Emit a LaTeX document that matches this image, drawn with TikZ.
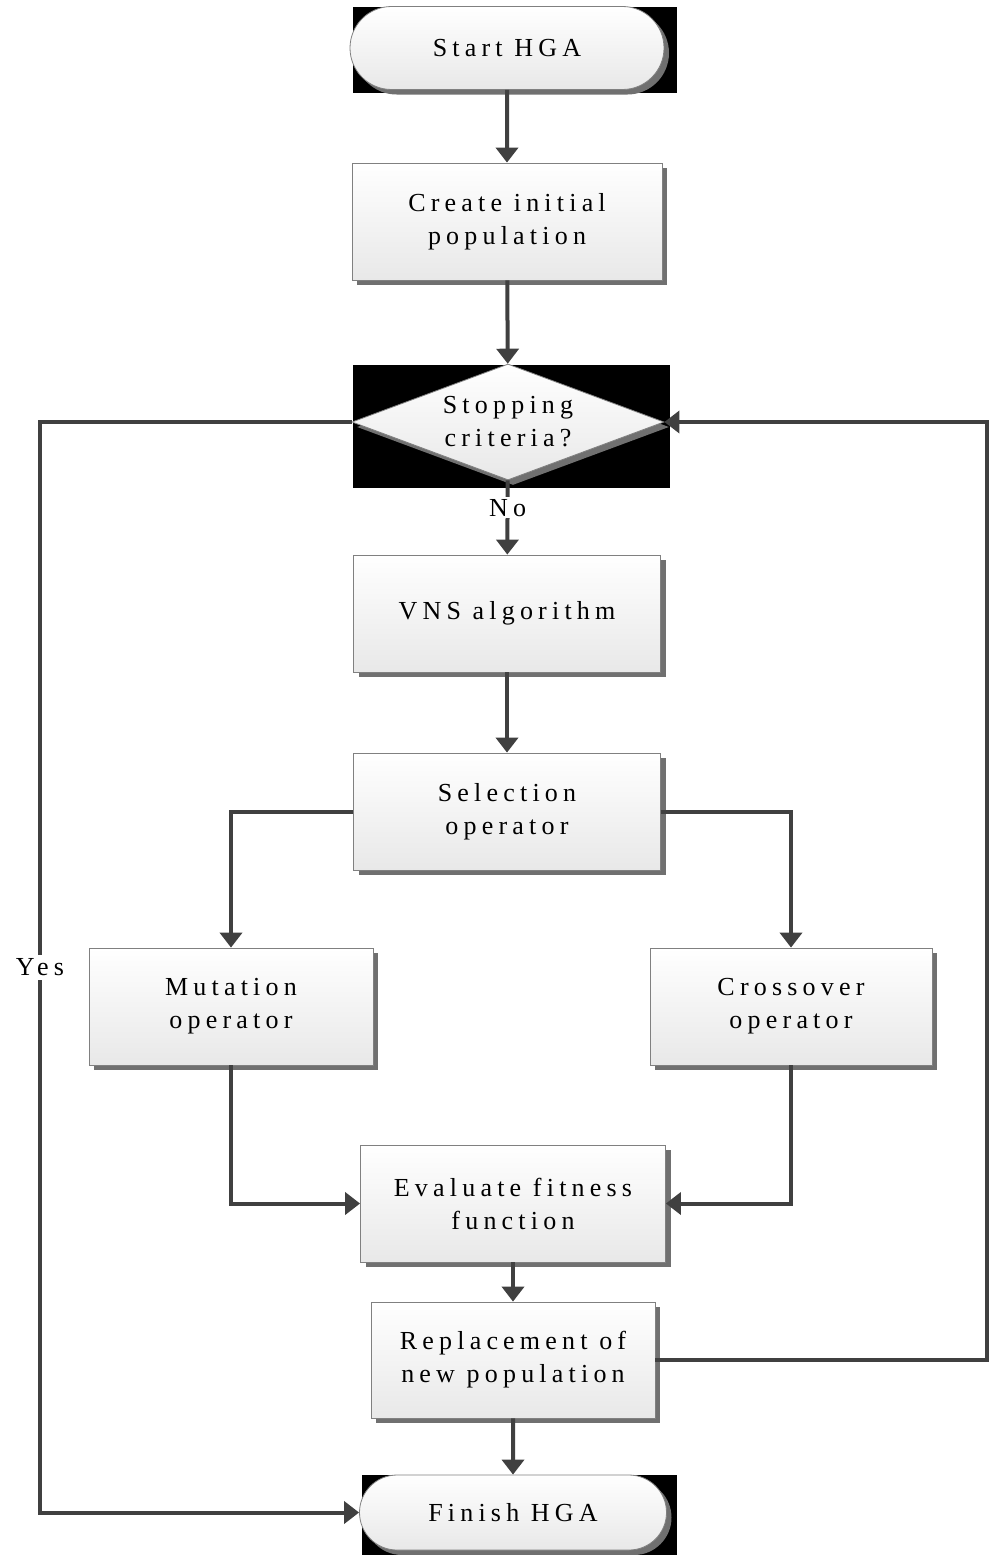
\documentclass[tikz,border=0pt]{standalone}
\usepackage{fontspec}
\setmainfont{Liberation Serif}[LetterSpace=20]
\usetikzlibrary{shapes.geometric,shapes.misc,arrows.meta,shadows}
\definecolor{linegray}{HTML}{404040}
\definecolor{boxedge}{HTML}{808080}
\definecolor{boxbot}{HTML}{E8E8E8}
\definecolor{shadowgray}{HTML}{707070}
\begin{document}
\begin{tikzpicture}[x=1pt,y=-1pt,
  font=\fontsize{26}{33}\selectfont,
  conn/.style={draw=linegray,line width=4pt},
  arr/.style={conn,-{Triangle[width=22pt,length=15pt]}},
  boxlook/.style={draw=boxedge,line width=0.8pt,top color=white,bottom color=boxbot,
    align=center,inner sep=0pt,
    drop shadow={shadow xshift=5pt,shadow yshift=-5pt,fill=shadowgray,opacity=1}},
  procbox/.style={boxlook,rectangle,minimum height=117pt},
  termbox/.style={boxlook,rounded rectangle},
  decbox/.style={boxlook,diamond,minimum width=312pt,minimum height=116pt},
  lbl/.style={fill=white,inner sep=2pt}]
\useasboundingbox (0,0) rectangle (989,1555);
% black backgrounds
\fill[black] (353,7) rectangle (677,93);
\fill[black] (353,365) rectangle (670,488);
\fill[black] (362,1475) rectangle (677,1555);
% nodes
\node[termbox,minimum width=314pt,minimum height=83pt] (start) at (507,48) {Start HGA};
\node[procbox,minimum width=310pt] (init) at (507,221.5) {Create initial\\population};
\node[decbox] (stop) at (508,422) {};
\node[align=center,inner sep=0pt] (stoptext) at (stop.center) {Stopping\\criteria?};
\node[procbox,minimum width=307pt] (vns) at (507,613.5) {VNS algorithm};
\node[procbox,minimum width=307pt] (sel) at (507,811.5) {Selection\\operator};
\node[procbox,minimum width=284pt] (mut) at (231,1006.5) {Mutation\\operator};
\node[procbox,minimum width=282pt] (cross) at (791,1006.5) {Crossover\\operator};
\node[procbox,minimum width=305pt] (eval) at (513,1203.5) {Evaluate fitness\\function};
\node[procbox,minimum width=284pt,minimum height=116pt] (repl) at (513,1360) {Replacement of\\new population};
\node[termbox,minimum width=307pt,minimum height=75pt] (finish) at (513,1512.5) {Finish HGA};
% connectors
\draw[arr] (start) -- (init);
\draw[arr] (init) -- (stop);
\draw[arr] (stop) -- node[lbl,pos=0.37] (no) {No} (vns);
\draw[arr] (vns) -- (sel);
\draw[arr] (sel.west) -| (mut.north);
\draw[arr] (sel.east) -| (cross.north);
\draw[arr] (mut.south) |- (eval.west);
\draw[arr] (cross.south) |- (eval.east);
\draw[arr] (eval) -- (repl);
\draw[arr] (repl) -- (finish);
\coordinate (yc) at (40,422);
\draw[arr] (stop.west) -- (yc) |- node[lbl,pos=0.25,inner sep=4pt] (yes) {Yes} (finish.west);
\coordinate (rc) at (987,1360);
\draw[arr] (repl.east) -- (rc) |- (stop.east);
\end{tikzpicture}
\end{document}
